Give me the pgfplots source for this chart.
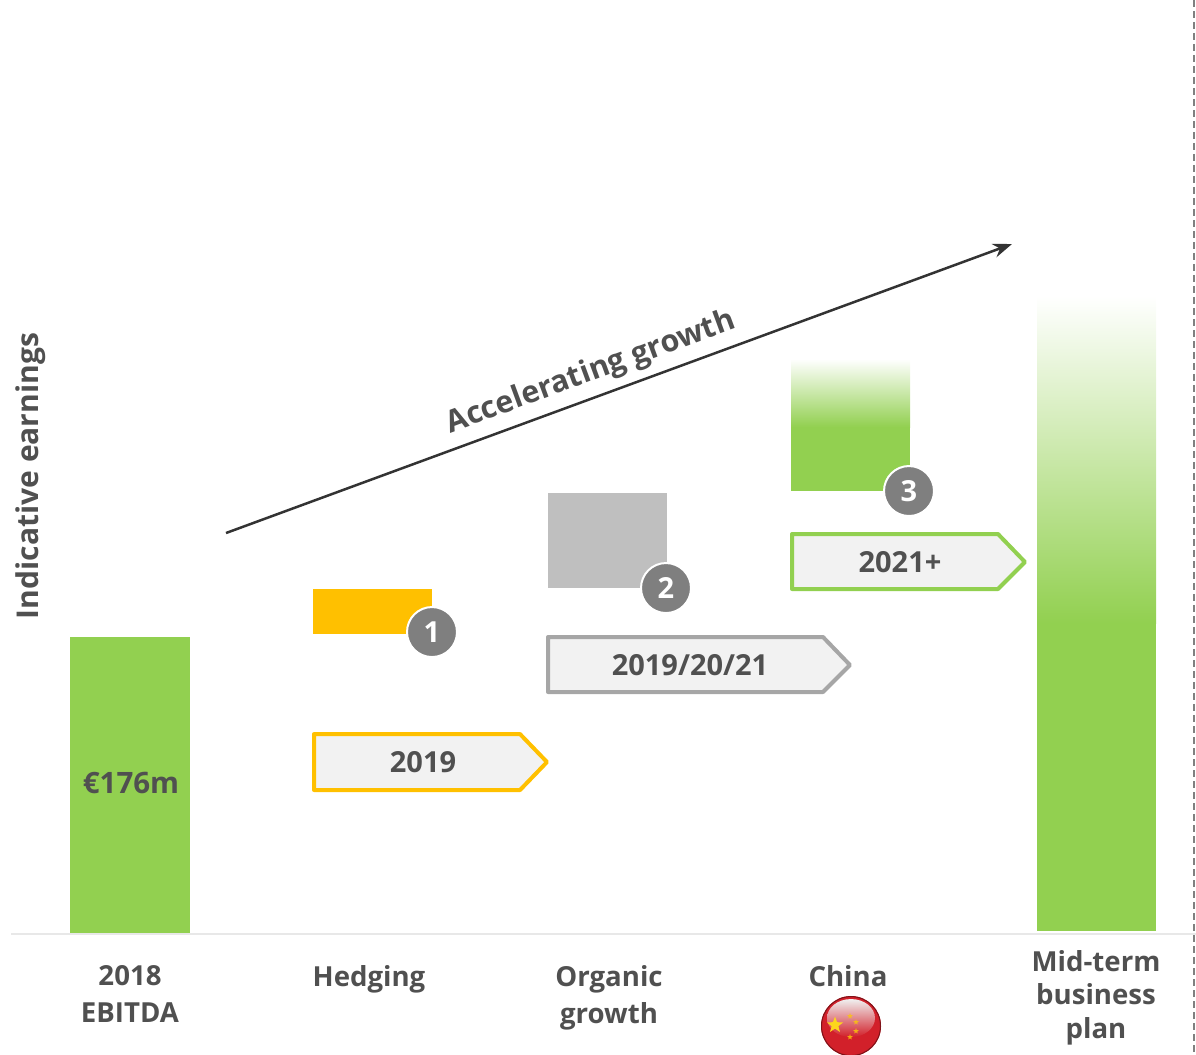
\documentclass[border=0pt]{standalone}
\usepackage{fontspec}
\setmainfont{Open Sans}
\usepackage{pgfplots}
\pgfplotsset{compat=1.18}
\usetikzlibrary{arrows.meta,shapes.geometric}
\definecolor{bargreen}{HTML}{92D050}
\definecolor{baryellow}{HTML}{FFC000}
\definecolor{bargrey}{HTML}{BFBFBF}
\definecolor{tagline}{HTML}{A6A6A6}
\definecolor{tagfill}{HTML}{F2F2F2}
\definecolor{txt}{HTML}{505050}
\definecolor{badge}{HTML}{7F7F7F}
\definecolor{flagred}{HTML}{D2202A}
\newcommand{\lab}{\fontsize{27.6}{37}\bfseries\selectfont}
\newcommand{\tagf}{\fontsize{29}{37}\bfseries\selectfont}
\begin{document}
\begin{tikzpicture}
\begin{axis}[
 scale only axis,
 width=1196pt,
 height=1054pt,
 xmin=0, xmax=1196,
 ymin=-121, ymax=933,
 axis x line=middle,
 axis y line=none,
 axis line style={draw=none},
 major tick length=0pt,
 xtick={130,369,609,848},
 xticklabels={{2018\\EBITDA},{Hedging},{Organic\\growth},{China}},
 extra x ticks={1096},
 extra x tick labels={{Mid-term\\[-3.3pt]business\\[-3.3pt]plan}},
 extra x tick style={tick label style={yshift=15pt}},
 x tick label style={align=center,anchor=north,text=txt,font=\lab,yshift=-32pt,inner sep=0pt,text width=200pt},
 ]
\path (axis cs:0,-121) rectangle (axis cs:1196,933);
% bars, height in px above the base line
\addplot[fill=bargreen,draw=none] coordinates {(70,0) (190,0) (190,296) (70,296)} --cycle;
\addplot[fill=baryellow,draw=none] coordinates {(313,299) (432,299) (432,344) (313,344)} --cycle;
\addplot[fill=bargrey,draw=none] coordinates {(548,345) (667,345) (667,440) (548,440)} --cycle;
\addplot[fill=bargreen,draw=none] coordinates {(791,442) (910,442) (910,506) (791,506)} --cycle;
\addplot[draw=none,shade,top color=white,bottom color=bargreen,shading angle=0] coordinates {(791,506) (910,506) (910,574) (791,574)} --cycle;
\addplot[fill=bargreen,draw=none] coordinates {(1037,2) (1156,2) (1156,310) (1037,310)} --cycle;
\addplot[draw=none,shade,top color=white,bottom color=bargreen,shading angle=0] coordinates {(1037,310) (1156,310) (1156,637) (1037,637)} --cycle;
% base line and divider
\addplot[color=black!9,line width=2.5pt] coordinates {(11,-1) (1196,-1)};
\addplot[color=black!50,line width=2pt,dash pattern=on 7pt off 4pt] coordinates {(1194,933) (1194,-121)};
% arrow
\addplot[color=black!80,line width=2.5pt,-{Stealth[length=19pt,width=14pt]}] coordinates {(226,400) (1012,689)};
\node[rotate=20.2,text=txt,font=\fontsize{30.5}{36}\bfseries\selectfont] at (axis cs:591,560) {Accelerating growth};
% time tags
\addplot[draw=baryellow,fill=tagfill,line width=4pt,line join=round] coordinates {(314,199) (520,199) (547,171) (520,143) (314,143)} --cycle;
\addplot[draw=tagline,fill=tagfill,line width=4pt,line join=round] coordinates {(548,296) (823,296) (850,268) (823,241) (548,241)} --cycle;
\addplot[draw=bargreen,fill=tagfill,line width=4pt,line join=round] coordinates {(792,399) (998,399) (1025,371) (998,344) (792,344)} --cycle;
\node[text=txt,font=\tagf] at (axis cs:423,171) {2019};
\node[text=txt,font=\tagf] at (axis cs:690,268) {2019/20/21};
\node[text=txt,font=\tagf] at (axis cs:900,371) {2021+};
% number badges
\addplot[only marks,mark=*,mark size=25pt,mark options={fill=badge,draw=white,line width=2pt},
 point meta=explicit symbolic,nodes near coords,
 every node near coord/.style={anchor=center,text=white,font=\tagf}]
 coordinates {(432,301)[1] (666,345)[2] (909,442)[3]};
\node[text=txt,font=\fontsize{29.5}{36}\bfseries\selectfont] at (axis cs:131,150) {€176m};
\node[rotate=90,text=txt,font=\fontsize{30}{36}\bfseries\selectfont] at (axis cs:31,457) {Indicative earnings};
% flag
\fill[flagred] (axis cs:851,-93) circle[radius=30pt];
\draw[black!40!flagred,line width=1pt] (axis cs:851,-93) circle[radius=29.5pt];
\shade[top color=black!6,bottom color=flagred] (axis cs:851,-85) ellipse[x radius=24pt,y radius=19pt];
\node[star,star points=5,star point ratio=2.4,fill=yellow!70!orange!90!white,inner sep=0pt,minimum size=17pt] at (axis cs:835,-92) {};
\foreach \a/\b in {850/-83,856/-89,856/-98,850/-104}{
 \edef\tmp{\noexpand\node[star,star points=5,star point ratio=2.4,fill=yellow!60!orange,opacity=0.8,inner sep=0pt,minimum size=6pt] at (axis cs:\a,\b) {};}\tmp}
\end{axis}
\end{tikzpicture}
\end{document}
